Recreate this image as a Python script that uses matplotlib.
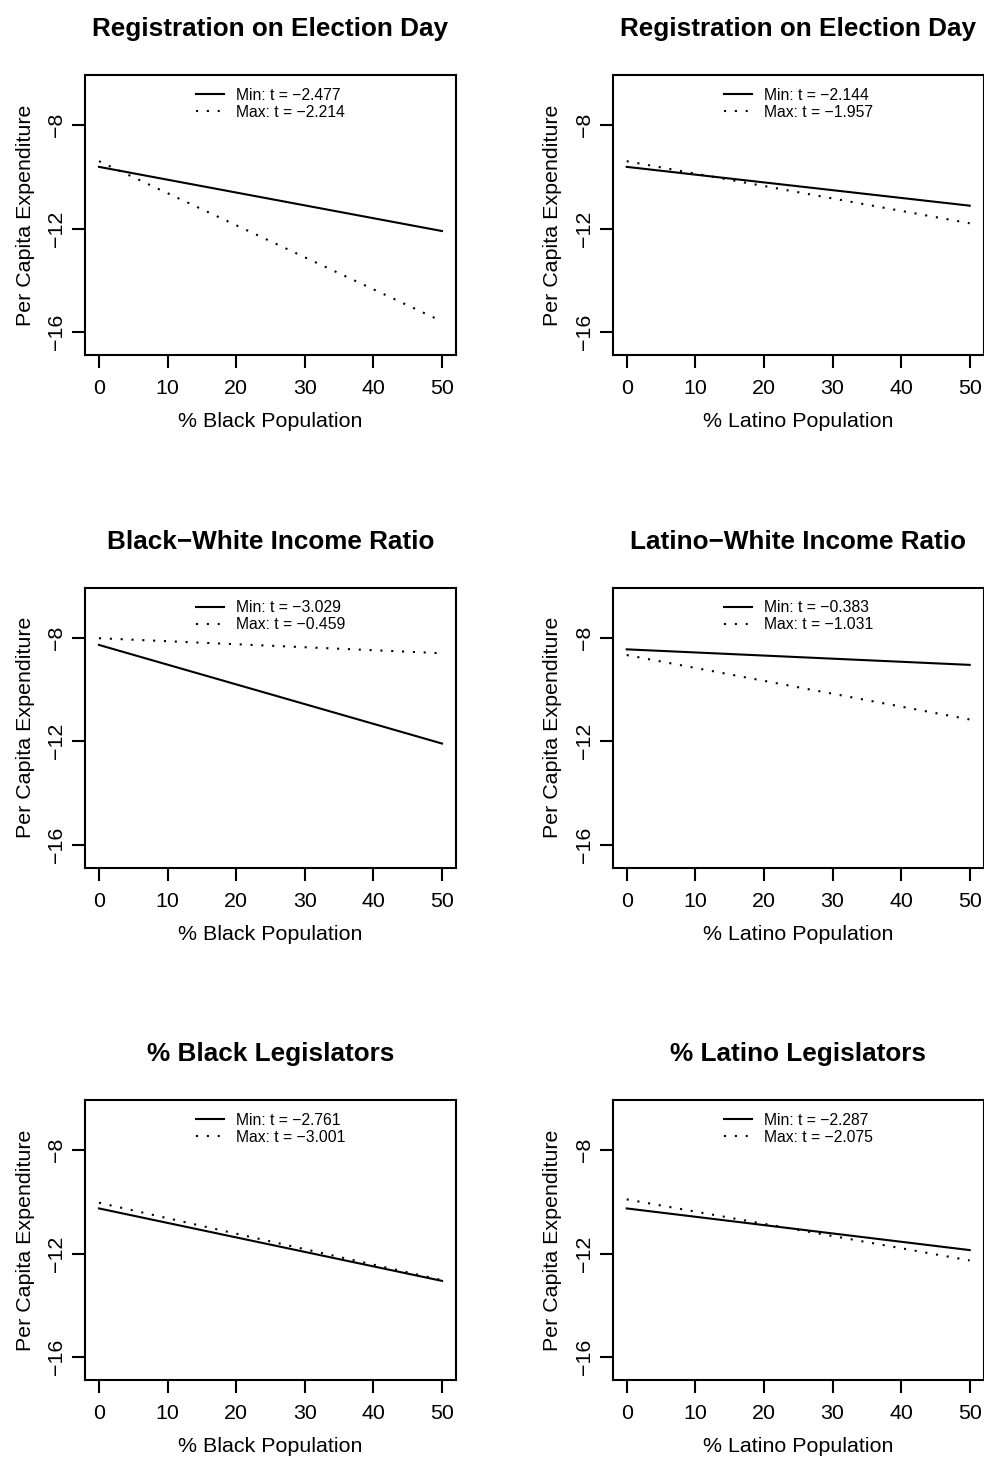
import numpy as np
import matplotlib
matplotlib.use("Agg")
import matplotlib.pyplot as plt

plt.rcParams["font.family"] = ["Liberation Sans", "DejaVu Sans"]

# Paneles: título, etiqueta del eje x y valores t de cada ajuste
titulos = ["Registration on Election Day", "Registration on Election Day",
           "Black\u2212White Income Ratio", "Latino\u2212White Income Ratio",
           "% Black Legislators", "% Latino Legislators"]
etiquetas_x = ["% Black Population", "% Latino Population"] * 3
t_min = [-2.477, -2.144, -3.029, -0.383, -2.761, -2.287]
t_max = [-2.214, -1.957, -0.459, -1.031, -3.001, -2.075]

# Gasto per cápita predicho en 0% y 50% de población
x_pob = [0, 50]
gasto_min = [[-9.61, -12.09], [-9.61, -11.11], [-8.28, -12.09],
             [-8.45, -9.05], [-10.25, -13.05], [-10.25, -11.86]]
gasto_max = [[-9.39, -15.58], [-9.39, -11.79], [-8.02, -8.60],
             [-8.67, -11.16], [-10.03, -13.02], [-9.90, -12.26]]

x_ticks = [0, 10, 20, 30, 40, 50]
y_ticks = [-8, -12, -16]

W, H = 984, 1457
fig = plt.figure(figsize=(W / 100, H / 100), dpi=100)

izq = [85, 612.7]
arriba = [75, 587.5, 1100]
ancho, alto = 371, 280

def fmt(v):
    return f"{v:.3f}".replace("-", "\u2212")

for i in range(6):
    fila, col = divmod(i, 2)
    ax = fig.add_axes([izq[col] / W, 1 - (arriba[fila] + alto) / H,
                       ancho / W, alto / H])
    ax.plot(x_pob, gasto_min[i], color="black", lw=1.5,
            label=f"Min: t = {fmt(t_min[i])}")
    ax.plot(x_pob, gasto_max[i], color="black", lw=1.5,
            linestyle=(0, (1, 4.2)), label=f"Max: t = {fmt(t_max[i])}")
    ax.set_xlim(-2.04, 52.04)
    ax.set_ylim(-16.88, -6.06)
    ax.set_xticks(x_ticks)
    ax.set_yticks(y_ticks)
    ax.tick_params(length=9.5, width=1.5, labelsize=15.4, direction="out")
    ax.tick_params(axis="x", pad=8)
    ax.tick_params(axis="y", pad=4, labelrotation=90)
    for lab in ax.get_yticklabels():
        lab.set_va("center")
    for s in ax.spines.values():
        s.set_linewidth(1.5)
    ax.set_xlabel(etiquetas_x[i], fontsize=15.4, labelpad=10)
    ax.set_ylabel("Per Capita Expenditure", fontsize=15.4, labelpad=9)
    ax.set_title(titulos[i], fontsize=18.8, fontweight="bold", pad=28)
    ax.legend(loc="upper center", frameon=False, fontsize=11.3,
              handlelength=1.8, handletextpad=0.75, labelspacing=0.15,
              borderaxespad=0.4)

fig.savefig("out.png", dpi=100)
